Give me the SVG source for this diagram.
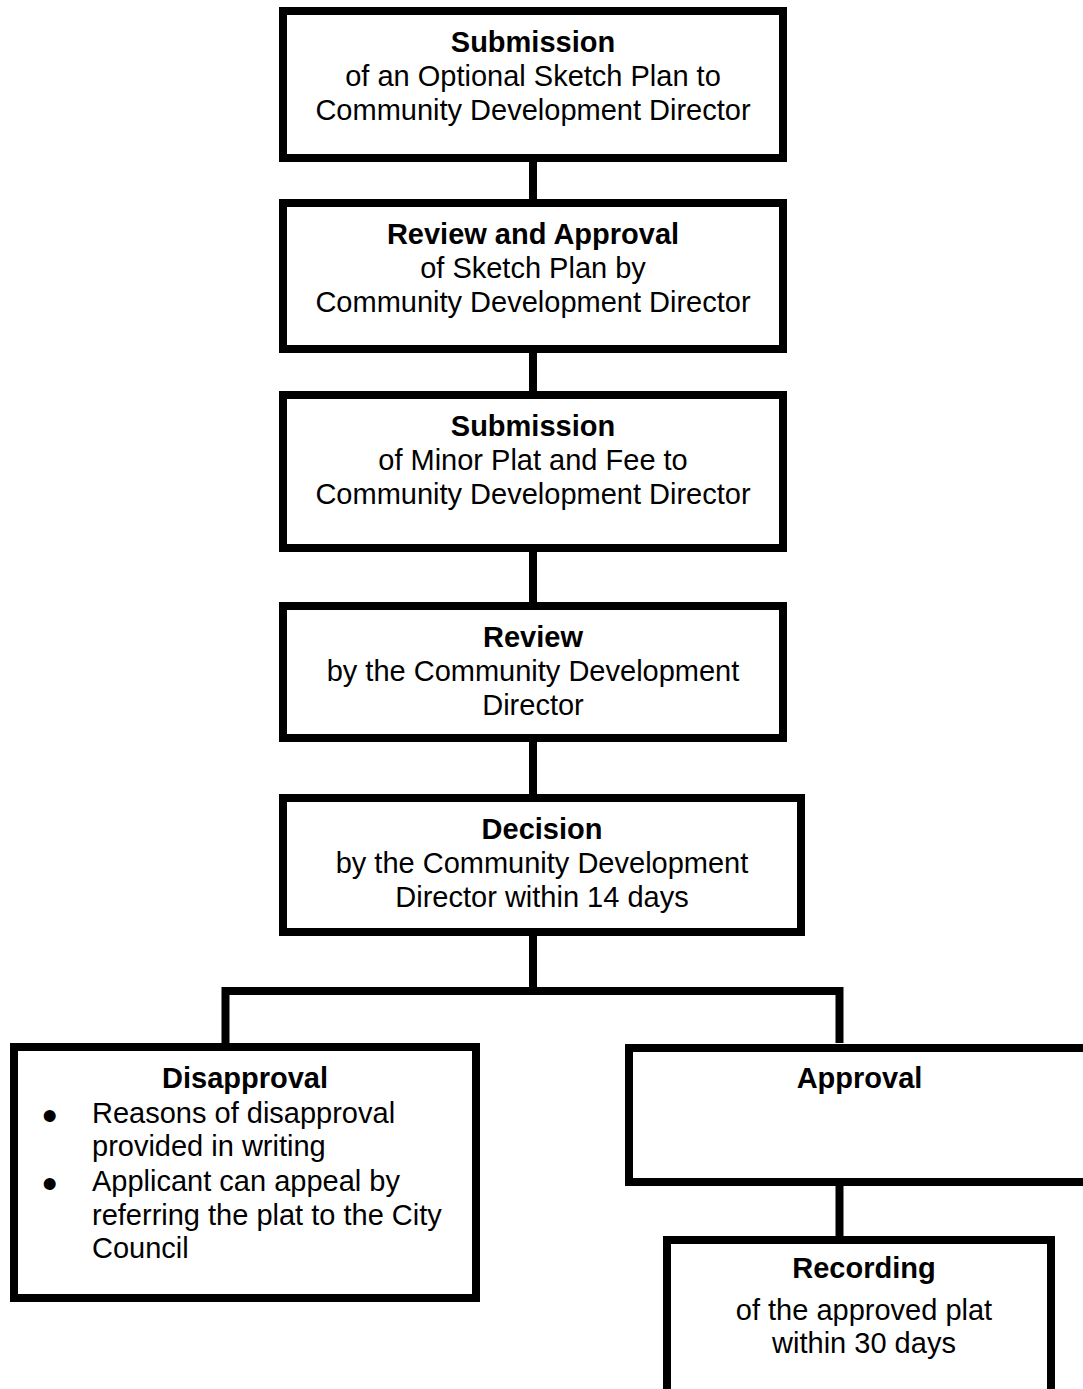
<svg xmlns="http://www.w3.org/2000/svg" width="1083" height="1389" viewBox="0 0 1083 1389">
<style>
.box{fill:#fff;stroke:#000;stroke-width:8;stroke-linejoin:miter}
.con{fill:none;stroke:#000;stroke-width:8;stroke-linejoin:miter}
text{font-family:"Liberation Sans",Arial,sans-serif;font-size:29px;fill:#000}
.c{text-anchor:middle}
.b{font-weight:bold}
.bul{font-size:44px}
</style>
<rect width="1083" height="1389" fill="#fff"/>
<g id="connectors">
<line class="con" x1="533" y1="162" x2="533" y2="199"/>
<line class="con" x1="533" y1="353" x2="533" y2="391"/>
<line class="con" x1="533" y1="552" x2="533" y2="602"/>
<line class="con" x1="533" y1="742" x2="533" y2="794"/>
<line class="con" x1="533" y1="936" x2="533" y2="991"/>
<path class="con" d="M225.5,1043 V991 H839.5 V1043"/>
<line class="con" x1="839.5" y1="1186" x2="839.5" y2="1236"/>
</g>
<g id="n1">
<rect class="box" x="283" y="11" width="500" height="147"/>
<text class="c b" x="533" y="52">Submission</text>
<text class="c" x="533" y="86">of an Optional Sketch Plan to</text>
<text class="c" x="533" y="120">Community Development Director</text>
</g>
<g id="n2">
<rect class="box" x="283" y="203" width="500" height="146"/>
<text class="c b" x="533" y="244">Review and Approval</text>
<text class="c" x="533" y="278">of Sketch Plan by</text>
<text class="c" x="533" y="312">Community Development Director</text>
</g>
<g id="n3">
<rect class="box" x="283" y="395" width="500" height="153"/>
<text class="c b" x="533" y="436">Submission</text>
<text class="c" x="533" y="470">of Minor Plat and Fee to</text>
<text class="c" x="533" y="504">Community Development Director</text>
</g>
<g id="n4">
<rect class="box" x="283" y="606" width="500" height="132"/>
<text class="c b" x="533" y="647">Review</text>
<text class="c" x="533" y="681">by the Community Development</text>
<text class="c" x="533" y="715">Director</text>
</g>
<g id="n5">
<rect class="box" x="283" y="798" width="518" height="134"/>
<text class="c b" x="542" y="839">Decision</text>
<text class="c" x="542" y="873">by the Community Development</text>
<text class="c" x="542" y="907">Director within 14 days</text>
</g>
<g id="n6">
<rect class="box" x="14" y="1047" width="462" height="251"/>
<text class="c b" x="245" y="1088">Disapproval</text>
<text class="bul" x="42" y="1131">•</text>
<text x="92" y="1123">Reasons of disapproval</text>
<text x="92" y="1156">provided in writing</text>
<text class="bul" x="42" y="1199">•</text>
<text x="92" y="1191">Applicant can appeal by</text>
<text x="92" y="1225">referring the plat to the City</text>
<text x="92" y="1258">Council</text>
</g>
<g id="n7">
<rect class="box" x="629" y="1048" width="461" height="134"/>
<text class="c b" x="859.5" y="1088">Approval</text>
</g>
<g id="n8">
<rect class="box" x="667" y="1240" width="384" height="200"/>
<text class="c b" x="864" y="1278">Recording</text>
<text class="c" x="864" y="1320">of the approved plat</text>
<text class="c" x="864" y="1353">within 30 days</text>
</g>
</svg>
